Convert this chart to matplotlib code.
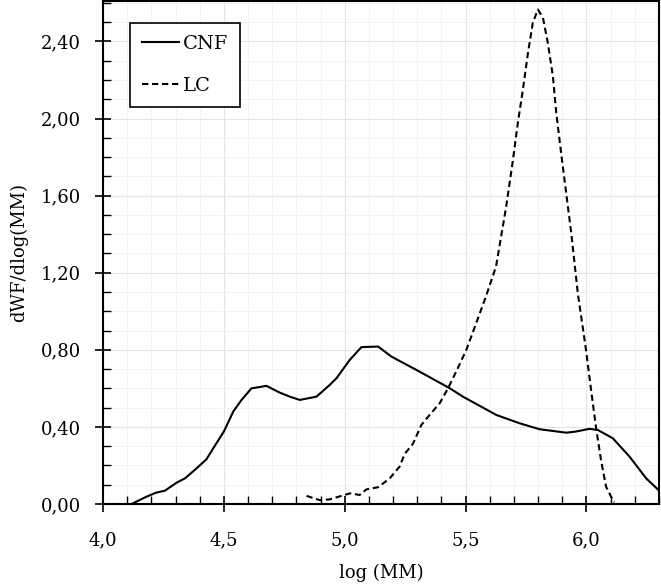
import numpy as np
import matplotlib.pyplot as plt
from matplotlib.ticker import MultipleLocator, FuncFormatter

plt.rcParams['font.family'] = ['DejaVu Serif']

# CNF (solid)
cnf_x = [4.118, 4.18, 4.22, 4.256, 4.305, 4.339, 4.387, 4.428, 4.456, 4.50,
         4.539, 4.573, 4.614, 4.676, 4.731, 4.773, 4.814, 4.883, 4.938, 4.966,
         5.021, 5.069, 5.138, 5.193, 5.296, 5.434, 5.489, 5.627, 5.723, 5.806,
         5.916, 5.957, 6.012, 6.047, 6.109, 6.178, 6.247, 6.30]
cnf_y = [0.0, 0.038, 0.059, 0.069, 0.111, 0.133, 0.185, 0.232, 0.289, 0.376,
         0.48, 0.54, 0.60, 0.613, 0.578, 0.557, 0.54, 0.557, 0.618, 0.653,
         0.748, 0.814, 0.817, 0.765, 0.696, 0.601, 0.557, 0.462, 0.419, 0.388,
         0.370, 0.376, 0.39, 0.384, 0.341, 0.246, 0.133, 0.07]

# LC (dashed)
lc_x = [4.842, 4.897, 4.938, 5.021, 5.062, 5.09, 5.138, 5.186, 5.227, 5.248,
        5.282, 5.317, 5.351, 5.393, 5.427, 5.461, 5.503, 5.544, 5.585, 5.626,
        5.668, 5.696, 5.716, 5.737, 5.758, 5.778, 5.799, 5.82, 5.84, 5.861,
        5.875, 5.895, 5.916, 5.937, 5.964, 5.998, 6.019, 6.04, 6.06, 6.081,
        6.109, 6.115]
lc_y = [0.042, 0.02, 0.024, 0.055, 0.047, 0.076, 0.087, 0.133, 0.194, 0.26,
        0.312, 0.41, 0.462, 0.523, 0.60, 0.687, 0.80, 0.939, 1.08, 1.233,
        1.544, 1.787, 1.977, 2.15, 2.341, 2.497, 2.566, 2.523, 2.393, 2.22,
        2.03, 1.822, 1.614, 1.406, 1.095, 0.80, 0.592, 0.393, 0.229, 0.09,
        0.02, 0.01]

fig = plt.figure(figsize=(6.61, 5.86), dpi=100)
ax = fig.add_axes([103 / 661, 82 / 586, 556 / 661, 503 / 586])

ax.plot(cnf_x, cnf_y, color='black', lw=1.5, label='CNF')
ax.plot(lc_x, lc_y, color='black', lw=1.5, linestyle=(0, (3, 1.8)), label='LC')

ax.set_xlim(4.0, 6.3)
ax.set_ylim(0, 2.61)
ax.xaxis.set_major_locator(MultipleLocator(0.5))
ax.xaxis.set_minor_locator(MultipleLocator(0.1))
ax.yaxis.set_major_locator(MultipleLocator(0.4))
ax.yaxis.set_minor_locator(MultipleLocator(0.1))
ax.xaxis.set_major_formatter(FuncFormatter(lambda v, p: f"{v:.1f}".replace('.', ',')))
ax.yaxis.set_major_formatter(FuncFormatter(lambda v, p: f"{v:.2f}".replace('.', ',')))

ax.tick_params(which='major', direction='inout', length=12, width=1.2, labelsize=13)
ax.tick_params(axis='x', which='major', pad=14)
ax.tick_params(axis='y', which='major', pad=10)
ax.tick_params(which='minor', direction='in', length=6, width=1.0)
ax.grid(True, which='major', color='#e4e4e4', lw=0.8)
ax.grid(True, which='minor', color='#f2f2f2', lw=0.7)
ax.set_axisbelow(True)
for s in ax.spines.values():
    s.set_linewidth(1.5)

ax.set_xlabel('log (MM)', fontsize=13, labelpad=10)
ax.set_ylabel('dWF/dlog(MM)', fontsize=13, labelpad=9)

leg = ax.legend(loc='upper left', bbox_to_anchor=(27 / 556, 1 - 22 / 503),
                borderaxespad=0, fontsize=14, fancybox=False, edgecolor='black',
                framealpha=1, handlelength=1.9, handletextpad=0.2,
                labelspacing=1.25, borderpad=0.6)
leg.get_frame().set_linewidth(1.2)

plt.savefig('out.png', dpi=100)
